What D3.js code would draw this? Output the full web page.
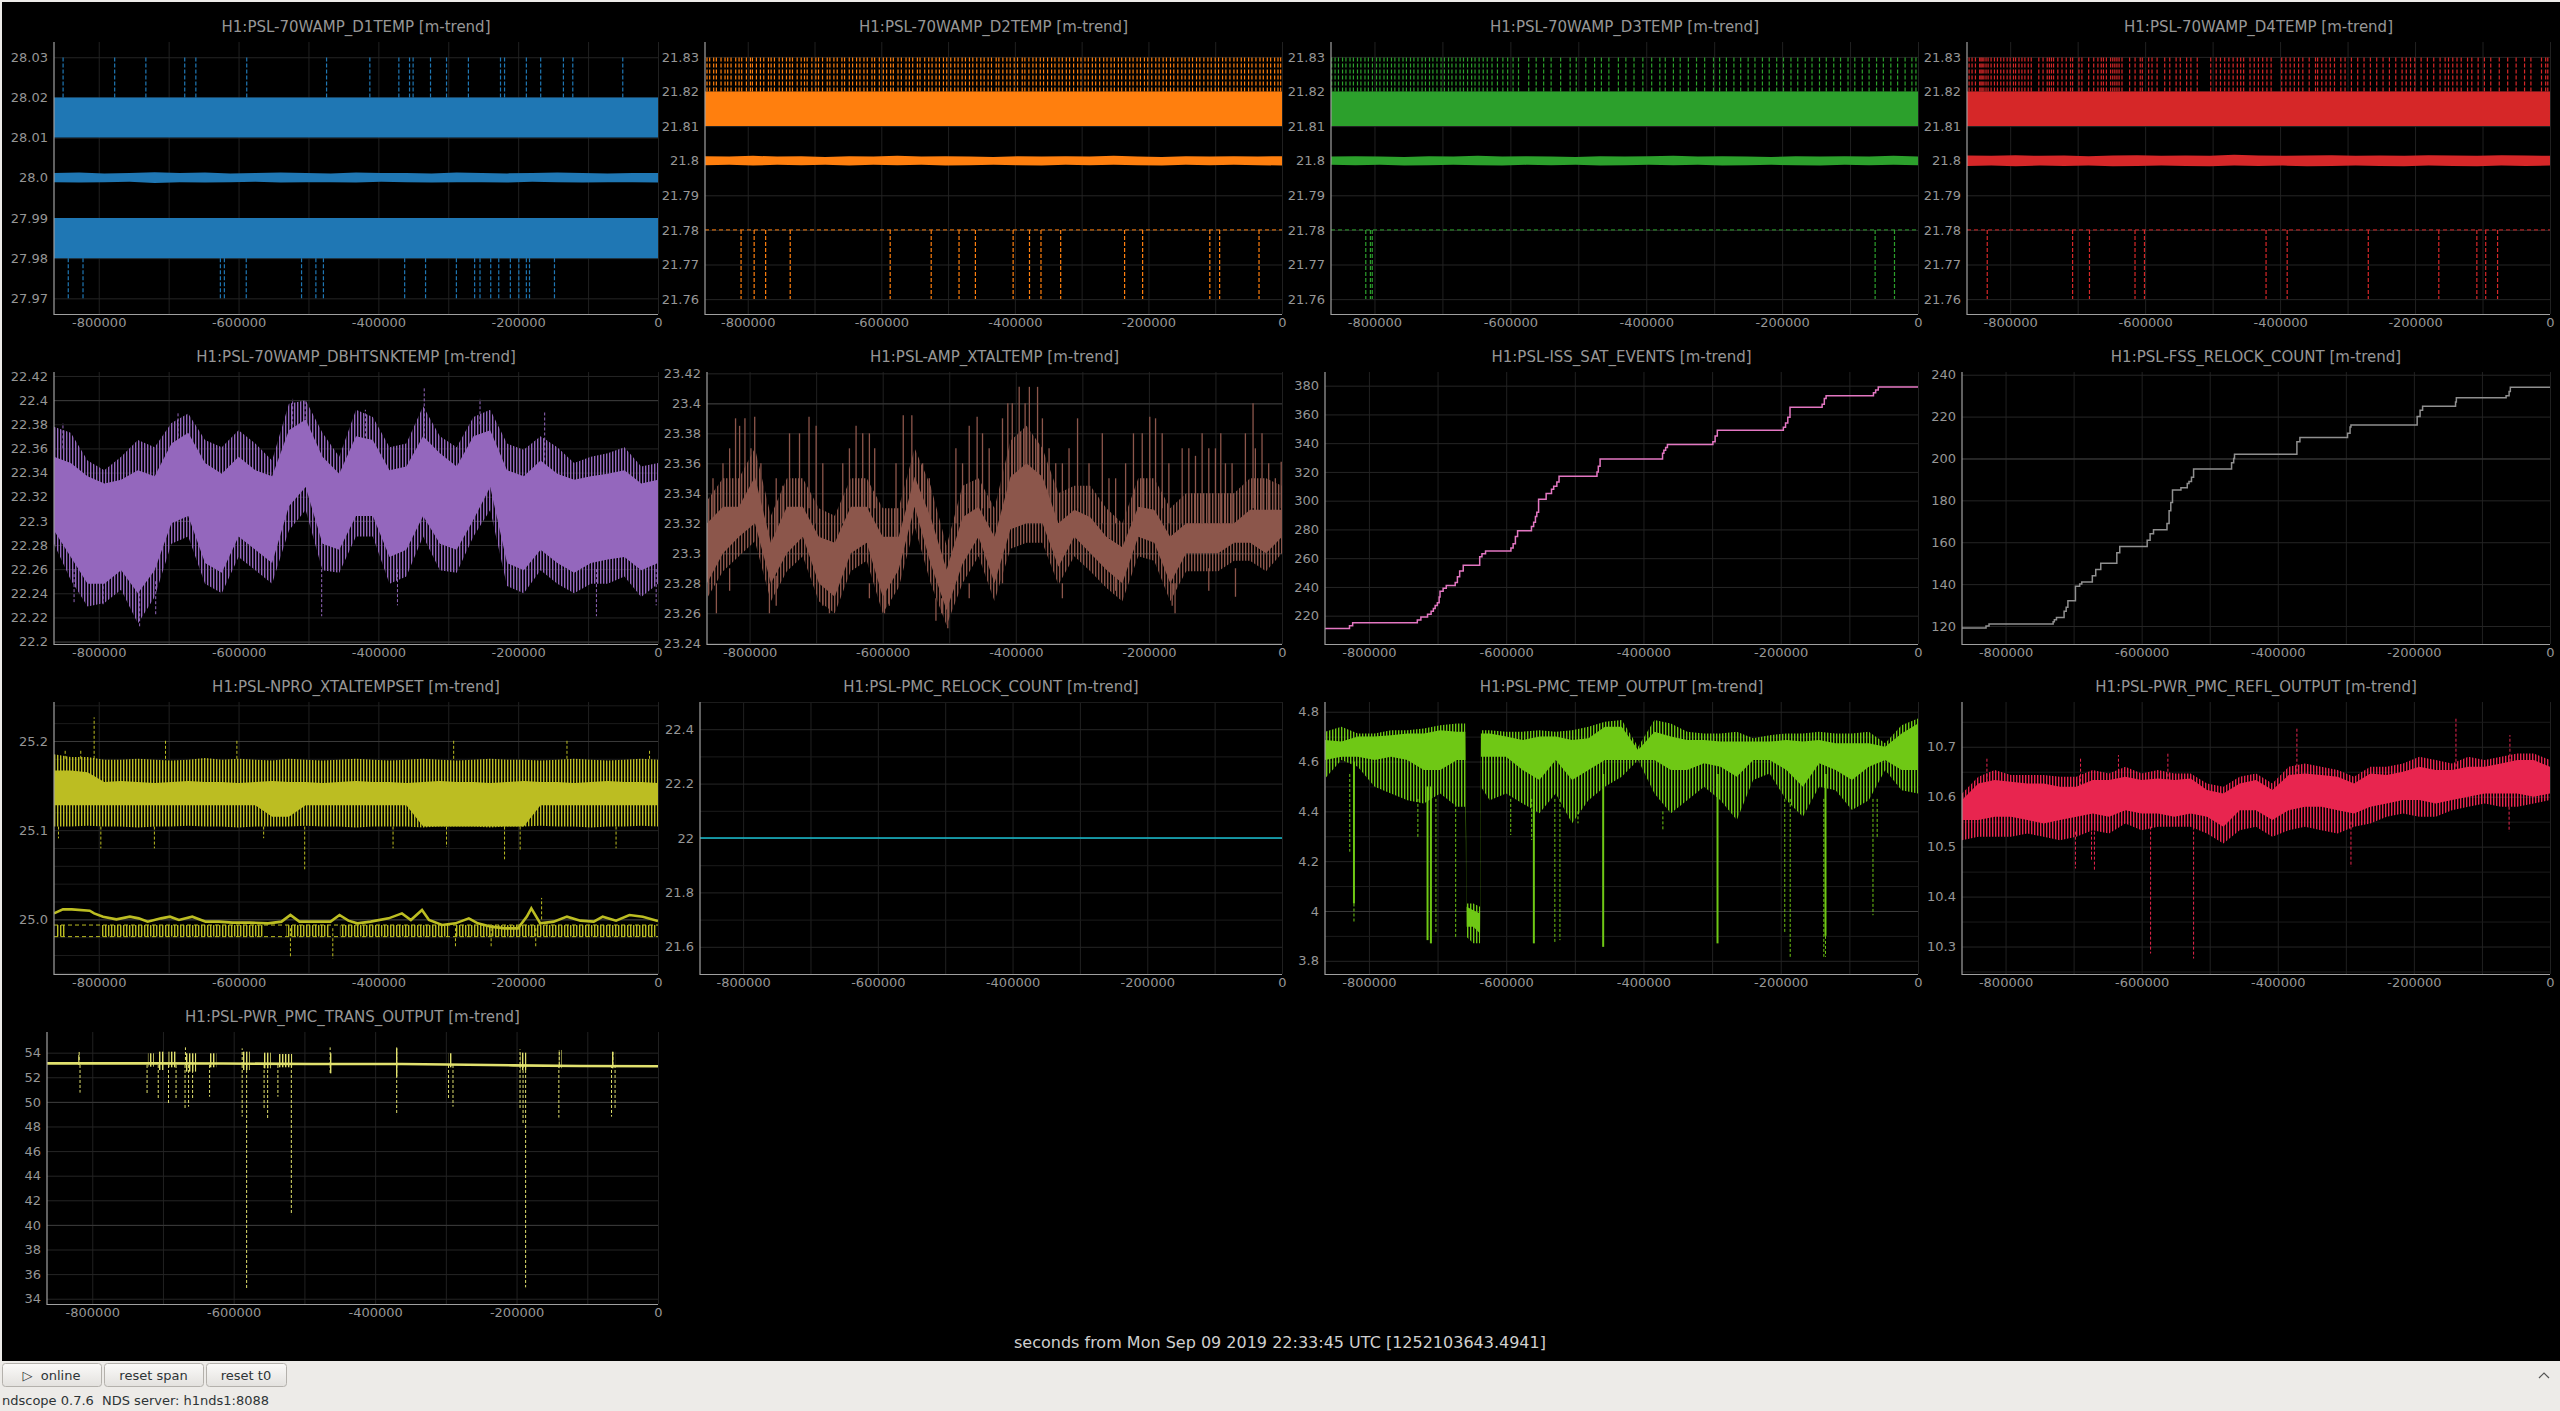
<!DOCTYPE html>
<html>
<head>
<meta charset="utf-8">
<script src="https://cdn.jsdelivr.net/npm/d3@7"></script>
<style>
html, body { margin: 0; padding: 0; background: #edebe8; }
svg { display: block; }
</style>
</head>
<body>
<svg id="scope" width="2560" height="1411"></svg>
<script>
const font = "DejaVu Sans, Verdana, sans-serif"
const spanStart = -864000
const rowTops = [0, 330, 660, 990]

const xTickVals = [-800000, -600000, -400000, -200000, 0]
const xGridVals = [-800000, -700000, -600000, -500000, -400000, -300000, -200000, -100000, 0]

// times below are in kiloseconds before t0
const meanTimes = [-864, -828, -792, -756, -720, -684, -648, -612, -576, -540, -504, -468, -432, -396, -360, -324, -288, -252, -216, -180, -144, -108, -72, -36, 0]
const envTimes = [-864, -840, -816, -792, -768, -744, -720, -696, -672, -648, -624, -600, -576, -552, -528, -504, -480, -456, -432, -408, -384, -360, -336, -312, -288, -264, -240, -216, -192, -168, -144, -120, -96, -72, -48, -24, 0]

// D1TEMP
const d1Ticks = ["27.97", "27.98", "27.99", "28.0", "28.01", "28.02", "28.03"]
const d1Bands = [[28.01, 28.02], [27.98, 27.99]]
const d1MeanHi = [28.0012, 28.0013, 28.0011, 28.0012, 28.0014, 28.0012, 28.0013, 28.0011, 28.0012, 28.0013, 28.0012, 28.0011, 28.0013, 28.0012, 28.0012, 28.0011, 28.0013, 28.0012, 28.0011, 28.0012, 28.0013, 28.0012, 28.0011, 28.0012, 28.0012]
const d1MeanLo = [27.9989, 27.9988, 27.9989, 27.999, 27.9987, 27.9989, 27.9988, 27.9989, 27.999, 27.9988, 27.9989, 27.9989, 27.9988, 27.999, 27.9989, 27.9988, 27.9989, 27.9989, 27.9988, 27.999, 27.9989, 27.9988, 27.9989, 27.9989, 27.9988]
const d1Up = [-851, -777.2, -732.6, -677, -661.1, -588.3, -474.1, -412.2, -370.7, -355.4, -350.3, -325.4, -302.5, -271.2, -225.3, -219.5, -188.3, -167.8, -135.3, -121.9, -50.4]
const d1Down = [-843.6, -822.5, -626, -620.3, -589, -509.9, -489.4, -478.6, -362.4, -332.5, -288.4, -262.3, -254.6, -239.3, -227.8, -211.2, -199.1, -188.3, -183.8, -148.1]

// D2..D4TEMP share the same axis
const dTicks = ["21.76", "21.77", "21.78", "21.79", "21.8", "21.81", "21.82", "21.83"]
const dBand = [21.81, 21.82]
const dFloor = 21.78
const d2MeanHi = [21.8013, 21.8012, 21.8014, 21.8012, 21.8013, 21.8011, 21.8013, 21.8012, 21.8014, 21.8012, 21.8013, 21.8012, 21.8011, 21.8013, 21.8012, 21.8013, 21.8012, 21.8014, 21.8012, 21.8011, 21.8013, 21.8012, 21.8013, 21.8012, 21.8013]
const d2MeanLo = [21.7987, 21.7988, 21.7986, 21.7988, 21.7987, 21.7988, 21.7986, 21.7988, 21.7987, 21.7988, 21.7986, 21.7987, 21.7988, 21.7987, 21.7986, 21.7988, 21.7987, 21.7988, 21.7987, 21.7986, 21.7988, 21.7987, 21.7988, 21.7987, 21.7986]
const d2Up = [-861, -857, -851, -847, -840, -834, -830, -825, -818, -813, -809, -802, -796, -793, -787, -781, -776, -769, -765, -760, -753, -748, -742, -737, -733, -726, -720, -715, -711, -704, -698, -694, -688, -681, -677, -671, -666, -659, -655, -648, -643, -637, -632, -626, -621, -614, -610, -603, -597, -592, -586, -582, -575, -570, -563, -558, -553, -546, -542, -535, -529, -524, -518, -513, -507, -502, -496, -490, -485, -479, -474, -468, -463, -457, -451, -446, -440, -435, -428, -424, -418, -412, -407, -401, -396, -389, -385, -379, -373, -368, -362, -357, -351, -345, -340, -334, -329, -323, -318, -312, -306, -301, -295, -290, -284, -279, -273, -267, -262, -256, -251, -245, -240, -234, -228, -223, -217, -212, -206, -201, -195, -189, -184, -178, -173, -167, -162, -156, -150, -145, -139, -134, -128, -123, -117, -111, -106, -100, -95, -89, -84, -78, -72, -67, -61, -56, -50, -45, -39, -33, -28, -22, -17, -11, -6, -2]
const d2Down = [-810, -790.4, -773.2, -736.4, -586.7, -525.3, -483.6, -459.1, -402.6, -378.1, -360.9, -331.4, -235.7, -208.7, -108.1, -93.4, -34.4]
const d3MeanHi = [21.8012, 21.8013, 21.8012, 21.8011, 21.8013, 21.8012, 21.8014, 21.8012, 21.8013, 21.8012, 21.8011, 21.8013, 21.8012, 21.8013, 21.8014, 21.8012, 21.8013, 21.8012, 21.8011, 21.8013, 21.8012, 21.8013, 21.8012, 21.8014, 21.8012]
const d3MeanLo = [21.7988, 21.7987, 21.7988, 21.7986, 21.7987, 21.7988, 21.7987, 21.7986, 21.7988, 21.7987, 21.7988, 21.7986, 21.7987, 21.7988, 21.7987, 21.7988, 21.7986, 21.7987, 21.7988, 21.7987, 21.7986, 21.7988, 21.7987, 21.7988, 21.7987]
const d3Up = [-863, -858, -853, -847, -842, -836, -831, -825, -820, -814, -809, -803, -797, -792, -786, -781, -775, -770, -764, -758, -753, -747, -742, -736, -730, -725, -719, -714, -708, -702, -697, -691, -686, -680, -674, -669, -663, -657, -652, -646, -640, -634, -627, -619, -611, -604, -596, -588, -573, -562, -551, -540, -526, -512, -503, -489, -476, -466, -455, -441, -430, -418, -405, -392, -380, -372, -360, -350, -338, -326, -314, -301, -292, -282, -271, -261, -250, -240, -229, -219, -208, -198, -187, -177, -166, -156, -145, -135, -124, -114, -103, -93, -82, -72, -61, -51, -40, -30, -19, -9, -3]
const d3Down = [-812.8, -806, -803.3, -63.1, -34.6]
const d4MeanHi = [21.8015, 21.8014, 21.8016, 21.8014, 21.8015, 21.8013, 21.8015, 21.8016, 21.8014, 21.8015, 21.8014, 21.8017, 21.8015, 21.8014, 21.8015, 21.8016, 21.8014, 21.8015, 21.8014, 21.8016, 21.8015, 21.8014, 21.8016, 21.8015, 21.8014]
const d4MeanLo = [21.7985, 21.7986, 21.7984, 21.7986, 21.7985, 21.7986, 21.7984, 21.7985, 21.7986, 21.7985, 21.7984, 21.7986, 21.7985, 21.7986, 21.7984, 21.7985, 21.7986, 21.7985, 21.7984, 21.7986, 21.7985, 21.7984, 21.7986, 21.7985, 21.7986]
const d4Up = [-860.9, -856.5, -851.5, -845.2, -843.3, -841.5, -839, -835.8, -832.7, -828.3, -823.3, -818.9, -813.9, -809.5, -804.5, -800.1, -795.1, -792, -787, -782.6, -778.2, -773.2, -768.8, -757.6, -751.3, -745.1, -741.9, -738.8, -735.7, -729.4, -723.2, -716.9, -710.6, -707.5, -698.1, -693.7, -683.7, -676.2, -670, -665, -661.8, -657.4, -651.2, -648, -644.9, -641.8, -638.6, -634.3, -623, -614.9, -607.3, -604.2, -594.8, -589.8, -582.3, -571, -563.5, -554.1, -547.9, -538.5, -532.2, -522.8, -502.8, -494.7, -488.4, -482.1, -475.9, -469.6, -463.4, -458.4, -454, -444.6, -438.3, -432.1, -425.8, -419.5, -413.3, -397.6, -391.4, -385.1, -378.9, -372.6, -366.3, -356.9, -347.5, -344.4, -338.2, -331.9, -325.6, -319.4, -310, -303.7, -294.3, -285, -275.6, -266.2, -256.8, -247.4, -238, -228.6, -219.2, -213, -206.7, -200.4, -191, -181.7, -172.3, -162.9, -155.4, -150.4, -144.1, -137.8, -131.6, -122.2, -115.9, -106.5, -97.2, -87.8, -75.2, -62.7, -50.2, -37.7, -28.3, -12.6, -6.4, -3.3]
const d4Down = [-834, -707.5, -682.5, -615, -601, -420.8, -389.5, -269.3, -164.8, -108.4, -95.3, -77.7]

// DBHTSNKTEMP
const htsTicks = ["22.2", "22.22", "22.24", "22.26", "22.28", "22.3", "22.32", "22.34", "22.36", "22.38", "22.4", "22.42"]
const htsOuterHi = [22.378, 22.373, 22.350, 22.342, 22.353, 22.367, 22.361, 22.381, 22.389, 22.367, 22.361, 22.375, 22.364, 22.350, 22.397, 22.400, 22.373, 22.353, 22.392, 22.386, 22.361, 22.364, 22.395, 22.370, 22.361, 22.386, 22.392, 22.364, 22.359, 22.370, 22.361, 22.348, 22.353, 22.356, 22.361, 22.345, 22.348]
const htsCoreHi = [22.353, 22.348, 22.337, 22.331, 22.334, 22.342, 22.337, 22.364, 22.373, 22.348, 22.339, 22.353, 22.342, 22.337, 22.375, 22.384, 22.353, 22.339, 22.370, 22.367, 22.342, 22.345, 22.370, 22.356, 22.345, 22.370, 22.375, 22.342, 22.337, 22.350, 22.339, 22.334, 22.337, 22.339, 22.342, 22.331, 22.334]
const htsCoreLo = [22.292, 22.270, 22.248, 22.248, 22.259, 22.240, 22.259, 22.298, 22.304, 22.265, 22.257, 22.287, 22.276, 22.265, 22.312, 22.328, 22.281, 22.276, 22.304, 22.304, 22.270, 22.276, 22.304, 22.281, 22.276, 22.301, 22.328, 22.265, 22.259, 22.276, 22.265, 22.257, 22.265, 22.268, 22.270, 22.259, 22.265]
const htsOuterLo = [22.281, 22.251, 22.229, 22.232, 22.243, 22.215, 22.237, 22.281, 22.287, 22.248, 22.240, 22.270, 22.259, 22.248, 22.292, 22.309, 22.259, 22.257, 22.287, 22.287, 22.248, 22.254, 22.287, 22.259, 22.257, 22.287, 22.309, 22.246, 22.240, 22.259, 22.248, 22.240, 22.248, 22.248, 22.254, 22.237, 22.248]
const htsSpikes = [[-851.2, 22.36, 22.381], [-686.6, 22.37, 22.390], [-522.6, 22.38, 22.401], [-504.8, 22.38, 22.400], [-418.6, 22.37, 22.392], [-334.4, 22.37, 22.411], [-254.6, 22.38, 22.401], [-162.1, 22.35, 22.39], [-835.3, 22.26, 22.232], [-793.8, 22.25, 22.23], [-741.5, 22.24, 22.211], [-718.5, 22.25, 22.221], [-481.1, 22.26, 22.221], [-372.7, 22.26, 22.23], [-88.1, 22.26, 22.221], [-2.6, 22.26, 22.23]]

// AMP_XTALTEMP
const ampTicks = ["23.24", "23.26", "23.28", "23.3", "23.32", "23.34", "23.36", "23.38", "23.4", "23.42"]
const ampOuterHi = [23.335, 23.35, 23.35, 23.37, 23.325, 23.35, 23.35, 23.33, 23.325, 23.35, 23.35, 23.33, 23.33, 23.37, 23.345, 23.305, 23.345, 23.35, 23.33, 23.375, 23.385, 23.37, 23.34, 23.345, 23.345, 23.33, 23.32, 23.35, 23.35, 23.33, 23.34, 23.34, 23.34, 23.34, 23.35, 23.35, 23.345]
const ampCoreHi = [23.32, 23.331, 23.331, 23.351, 23.307, 23.331, 23.331, 23.311, 23.307, 23.331, 23.331, 23.311, 23.311, 23.351, 23.324, 23.289, 23.324, 23.331, 23.311, 23.351, 23.36, 23.351, 23.32, 23.329, 23.324, 23.311, 23.304, 23.331, 23.329, 23.311, 23.32, 23.32, 23.32, 23.32, 23.329, 23.329, 23.329]
const ampCoreLo = [23.28, 23.30, 23.311, 23.32, 23.28, 23.30, 23.311, 23.28, 23.271, 23.30, 23.307, 23.271, 23.289, 23.331, 23.293, 23.262, 23.293, 23.311, 23.28, 23.316, 23.32, 23.32, 23.291, 23.311, 23.30, 23.289, 23.28, 23.311, 23.307, 23.28, 23.30, 23.30, 23.30, 23.307, 23.307, 23.30, 23.311]
const ampOuterLo = [23.27, 23.288, 23.298, 23.308, 23.268, 23.288, 23.298, 23.268, 23.26, 23.288, 23.295, 23.26, 23.277, 23.318, 23.28, 23.252, 23.28, 23.298, 23.268, 23.303, 23.307, 23.307, 23.279, 23.298, 23.288, 23.277, 23.268, 23.298, 23.295, 23.268, 23.288, 23.288, 23.288, 23.295, 23.295, 23.288, 23.3]
const ampSpikes = [[-821.1, 23.33, 23.39], [-807.0, 23.33, 23.39], [-792.3, 23.34, 23.391], [-710.7, 23.33, 23.391], [-569.1, 23.33, 23.392], [-556.2, 23.34, 23.392], [-458.1, 23.33, 23.391], [-405.3, 23.35, 23.40], [-394.9, 23.35, 23.411], [-379.6, 23.35, 23.411], [-367.3, 23.35, 23.411], [-307.2, 23.33, 23.39], [-223.2, 23.32, 23.38], [-198.7, 23.33, 23.391], [-43.5, 23.33, 23.40], [-1.2, 23.33, 23.361],
    [-840, 23.33, 23.36], [-760, 23.31, 23.35], [-740, 23.33, 23.38], [-725, 23.33, 23.38], [-650, 23.33, 23.37], [-630, 23.33, 23.38], [-620, 23.33, 23.38], [-540, 23.33, 23.36], [-480, 23.32, 23.36], [-440, 23.33, 23.37], [-350, 23.33, 23.37], [-330, 23.32, 23.36], [-270, 23.32, 23.38], [-250, 23.32, 23.35], [-180, 23.33, 23.38], [-150, 23.32, 23.37], [-120, 23.32, 23.38], [-100, 23.32, 23.37], [-85, 23.32, 23.36], [-30, 23.32, 23.38],
    [-855, 23.31, 23.35], [-830, 23.33, 23.37], [-815, 23.33, 23.385], [-798, 23.33, 23.37], [-783, 23.33, 23.36], [-750, 23.31, 23.345], [-700, 23.32, 23.385], [-690, 23.31, 23.36], [-660, 23.32, 23.36], [-640, 23.33, 23.385], [-612, 23.33, 23.37], [-580, 23.31, 23.36], [-530, 23.31, 23.35], [-490, 23.32, 23.37], [-470, 23.33, 23.385], [-450, 23.33, 23.38], [-420, 23.34, 23.39], [-412, 23.34, 23.40], [-386, 23.35, 23.40], [-360, 23.34, 23.39], [-340, 23.32, 23.36], [-320, 23.32, 23.37], [-290, 23.32, 23.36], [-260, 23.31, 23.35], [-235, 23.31, 23.36], [-210, 23.32, 23.38], [-190, 23.32, 23.39], [-170, 23.32, 23.36], [-140, 23.32, 23.37], [-130, 23.32, 23.365], [-110, 23.32, 23.37], [-92, 23.32, 23.38], [-75, 23.32, 23.36], [-55, 23.32, 23.38], [-40, 23.32, 23.37], [-20, 23.32, 23.36], [-10, 23.32, 23.35],
    [-849.9, 23.28, 23.26], [-770.2, 23.28, 23.26], [-680.0, 23.28, 23.26], [-597.3, 23.28, 23.26], [-511.4, 23.27, 23.26], [-502.2, 23.27, 23.25], [-160.7, 23.28, 23.26], [-69.9, 23.29, 23.271],
    [-830, 23.29, 23.275], [-760, 23.285, 23.265], [-690, 23.285, 23.265], [-620, 23.28, 23.27], [-590, 23.28, 23.265], [-520, 23.27, 23.255], [-470, 23.28, 23.27], [-420, 23.3, 23.28], [-330, 23.28, 23.27], [-250, 23.285, 23.275], [-165, 23.28, 23.265], [-110, 23.29, 23.275]]

// ISS_SAT_EVENTS and FSS_RELOCK_COUNT (counters)
const issTicks = ["220", "240", "260", "280", "300", "320", "340", "360", "380"]
const issSteps = [[-864, 211], [-828.3, 213], [-823.7, 215], [-729.5, 217], [-724.3, 219], [-714.6, 221], [-709.4, 223], [-706.1, 225], [-703.5, 227], [-700.3, 229], [-697.7, 233], [-696.4, 237], [-691.9, 239], [-687.3, 241], [-674.3, 243], [-671.1, 247], [-667.8, 251], [-662.6, 255], [-638.6, 261], [-635.3, 263], [-630.1, 265], [-593.1, 267], [-589.9, 270], [-586.6, 275], [-583.4, 279], [-563.2, 282], [-560.0, 285], [-557.4, 289], [-555.4, 292], [-552.8, 301], [-541.8, 305], [-534.0, 308], [-530.8, 310], [-526.2, 313], [-523.0, 317], [-467.7, 320], [-465.8, 324], [-463.2, 329], [-372.2, 333], [-370.3, 335], [-367.7, 337], [-365.1, 339], [-298.9, 341], [-295.6, 345], [-292.4, 349], [-196.2, 351], [-193.0, 354], [-189.7, 358], [-186.5, 365], [-139.7, 367], [-136.5, 371], [-133.9, 373], [-64.9, 375], [-61.7, 377], [-57.9, 379]]
const fssTicks = ["120", "140", "160", "180", "200", "220", "240"]
const fssSteps = [[-864, 119], [-828.7, 120], [-824.3, 121], [-730.1, 122], [-728.3, 123], [-725.2, 124], [-714.0, 127], [-710.9, 129], [-708.4, 132], [-697.3, 139], [-691.1, 140], [-688.0, 141], [-672.5, 144], [-667.5, 147], [-660.1, 150], [-636.5, 155], [-632.2, 158], [-591.9, 161], [-587.6, 164], [-582.6, 166], [-562.8, 169], [-559.7, 175], [-557.2, 179], [-554.7, 185], [-542.3, 186], [-533.0, 188], [-530.5, 189], [-526.8, 191], [-523.7, 195], [-467.9, 198], [-464.8, 200], [-463.6, 202], [-371.9, 208], [-367.5, 210], [-297.5, 212], [-293.8, 215], [-292.5, 216], [-195.2, 220], [-190.9, 223], [-187.2, 225], [-138.8, 227], [-137.6, 229], [-64.5, 230], [-60.1, 232], [-58.3, 234]]

// NPRO_XTALTEMPSET
const nproTicks = ["25.0", "25.1", "25.2"]
const nproGrid = [24.94, 24.96, 24.98, 25.02, 25.04, 25.06, 25.08, 25.12, 25.14, 25.16, 25.18, 25.22, 25.24]
const nproOuterHi = [25.185, 25.182, 25.182, 25.179, 25.179, 25.18, 25.179, 25.178, 25.179, 25.181, 25.179, 25.18, 25.179, 25.178, 25.18, 25.179, 25.178, 25.179, 25.18, 25.179, 25.178, 25.179, 25.18, 25.179, 25.178, 25.179, 25.18, 25.179, 25.179, 25.178, 25.179, 25.18, 25.179, 25.178, 25.179, 25.18, 25.179]
const nproCoreHi = [25.167, 25.167, 25.165, 25.154, 25.155, 25.154, 25.153, 25.154, 25.155, 25.154, 25.154, 25.153, 25.154, 25.155, 25.154, 25.154, 25.153, 25.154, 25.155, 25.154, 25.154, 25.153, 25.154, 25.155, 25.154, 25.154, 25.153, 25.154, 25.155, 25.154, 25.154, 25.153, 25.154, 25.155, 25.154, 25.154, 25.153]
const nproCoreLo = [25.128, 25.128, 25.128, 25.128, 25.128, 25.128, 25.128, 25.128, 25.128, 25.128, 25.128, 25.128, 25.128, 25.115, 25.115, 25.128, 25.128, 25.128, 25.128, 25.128, 25.128, 25.128, 25.104, 25.104, 25.104, 25.104, 25.104, 25.104, 25.104, 25.128, 25.128, 25.128, 25.128, 25.128, 25.128, 25.128, 25.128]
const nproOuterLo = [25.104, 25.104, 25.105, 25.104, 25.104, 25.103, 25.104, 25.104, 25.105, 25.104, 25.104, 25.103, 25.104, 25.104, 25.104, 25.105, 25.104, 25.104, 25.103, 25.104, 25.104, 25.104, 25.103, 25.104, 25.104, 25.104, 25.103, 25.104, 25.104, 25.105, 25.104, 25.104, 25.103, 25.104, 25.104, 25.105, 25.104]
const nproSpikes = [[-806.6, 25.18, 25.2265], [-848.0, 25.18, 25.19], [-825.7, 25.18, 25.19], [-704.5, 25.18, 25.2019], [-602.4, 25.18, 25.2019], [-292.3, 25.18, 25.2019], [-130.2, 25.18, 25.201], [-12.1, 25.18, 25.19],
    [-857.6, 25.104, 25.0908], [-797.0, 25.104, 25.0796], [-720.4, 25.104, 25.0796], [-564.1, 25.104, 25.091], [-505.4, 25.104, 25.0561], [-379.0, 25.104, 25.0796], [-302.5, 25.104, 25.081], [-219.5, 25.104, 25.0673], [-197.2, 25.104, 25.078], [-60.0, 25.104, 25.0796],
    [-525.8, 24.99, 24.958], [-465.2, 24.99, 24.956], [-289.7, 24.99, 24.969], [-238.7, 24.99, 24.969], [-174.9, 24.99, 24.969], [-166.5, 25.0, 25.024]]
const nproTrace = [[-864, 25.0067], [-851.2, 25.0112], [-838.5, 25.0112], [-812.9, 25.0097], [-806.6, 25.0067], [-793.8, 25.003], [-774.7, 25.0], [-755.5, 25.003], [-742.8, 25.0011], [-730.0, 24.9974], [-710.9, 25.0011], [-698.1, 25.003], [-685.3, 24.9993], [-666.2, 25.003], [-647.0, 24.9974], [-627.9, 24.9974], [-608.8, 24.9963], [-583.2, 24.9963], [-557.7, 24.9955], [-538.6, 24.9974], [-525.8, 25.0049], [-513.0, 24.9974], [-493.9, 24.9974], [-468.4, 24.9974], [-455.6, 25.0049], [-442.9, 24.9985], [-430.1, 24.9955], [-411.0, 24.9974], [-385.4, 25.0011], [-366.3, 25.0067], [-353.5, 24.9993], [-337.6, 25.0105], [-327.6, 24.9993], [-308.9, 24.9936], [-289.7, 24.9955], [-270.6, 25.0011], [-257.8, 24.9955], [-238.7, 24.9918], [-219.5, 24.9899], [-200.4, 24.9899], [-187.6, 25.003], [-181.2, 25.0123], [-168.4, 24.9955], [-149.3, 24.9974], [-130.2, 25.003], [-111.0, 24.9985], [-91.9, 24.9974], [-79.1, 25.003], [-60.0, 24.9985], [-40.9, 25.0049], [-21.7, 25.003], [0, 24.9981]]
const nproBars = [[-861, -848], [-797, -565], [-532, -470], [-455, -300], [-290, -3]]
const nproBarRange = [24.9806, 24.9936]

// PMC_RELOCK_COUNT
const relockTicks = ["21.6", "21.8", "22", "22.2", "22.4"]
const relockGrid = [21.5, 21.7, 21.9, 22.1, 22.3, 22.5]
const relockTrace = [[-864, 22], [0, 22]]

// PMC_TEMP_OUTPUT
const tempTicks = ["3.8", "4", "4.2", "4.4", "4.6", "4.8"]
const tempGrid = [3.9, 4.1, 4.3, 4.5, 4.7]
const tempTimes = [-864, -840.1, -816.2, -791.7, -767.9, -744.0, -720.1, -696.2, -671.7, -659.5, -657.6, -647.9, -638.1, -636.8, -624.0, -600.1, -576.2, -551.7, -527.8, -504.0, -480.1, -456.2, -431.7, -407.8, -384.0, -360.1, -336.2, -311.7, -287.8, -264.0, -240.1, -216.2, -191.7, -167.8, -144.0, -120.1, -96.2, -71.7, -47.8, -23.9, 0]
const tempOuterHi = [4.72, 4.74, 4.713, 4.713, 4.726, 4.726, 4.733, 4.746, 4.753, 4.753, 4.03, 4.03, 4.017, 4.726, 4.726, 4.72, 4.72, 4.726, 4.72, 4.726, 4.74, 4.76, 4.767, 4.659, 4.767, 4.753, 4.72, 4.713, 4.713, 4.72, 4.693, 4.706, 4.713, 4.713, 4.72, 4.713, 4.713, 4.72, 4.673, 4.746, 4.773]
const tempCoreHi = [4.686, 4.68, 4.70, 4.70, 4.706, 4.713, 4.713, 4.726, 4.72, 4.72, 4.017, 4.003, 3.99, 4.713, 4.713, 4.70, 4.686, 4.70, 4.70, 4.686, 4.693, 4.74, 4.74, 4.646, 4.72, 4.70, 4.686, 4.686, 4.68, 4.68, 4.68, 4.68, 4.686, 4.68, 4.686, 4.673, 4.673, 4.673, 4.659, 4.713, 4.753]
const tempCoreLo = [4.606, 4.619, 4.619, 4.606, 4.619, 4.606, 4.566, 4.566, 4.606, 4.606, 3.937, 3.937, 3.91, 4.619, 4.619, 4.619, 4.566, 4.526, 4.606, 4.526, 4.566, 4.606, 4.606, 4.606, 4.606, 4.566, 4.566, 4.593, 4.579, 4.539, 4.606, 4.606, 4.566, 4.499, 4.593, 4.566, 4.526, 4.579, 4.606, 4.566, 4.566]
const tempOuterLo = [4.532, 4.606, 4.579, 4.499, 4.472, 4.445, 4.432, 4.472, 4.418, 4.418, 3.896, 3.87, 3.87, 4.499, 4.445, 4.472, 4.432, 4.392, 4.472, 4.352, 4.445, 4.499, 4.539, 4.606, 4.472, 4.392, 4.445, 4.499, 4.445, 4.365, 4.526, 4.552, 4.445, 4.378, 4.499, 4.485, 4.405, 4.445, 4.566, 4.485, 4.472]
const tempDips = [[-821.8, 4.6, 4.03], [-714.6, 4.5, 3.883], [-709.7, 4.5, 3.87], [-559.7, 4.55, 3.87], [-458.7, 4.55, 3.856], [-292.1, 4.55, 3.87], [-134.8, 4.55, 3.9]]
const tempSpikes = [[-827.9, 4.55, 4.238], [-821.8, 4.03, 3.95], [-728.7, 4.45, 4.291], [-702.4, 4.45, 3.91], [-673.6, 4.45, 3.89], [-593.4, 4.45, 4.305], [-562.8, 4.45, 4.285], [-529.1, 4.45, 3.87], [-521.7, 4.45, 3.883], [-495.4, 4.4, 4.352], [-371.7, 4.4, 4.325], [-194.1, 4.45, 3.91], [-186.2, 4.45, 3.816], [-137.2, 4.45, 3.816], [-134.8, 3.9, 3.816], [-65.6, 4.45, 3.983], [-59.5, 4.45, 4.291]]

// PWR_PMC_REFL_OUTPUT
const reflTicks = ["10.3", "10.4", "10.5", "10.6", "10.7"]
const reflGrid = [10.25, 10.35, 10.45, 10.55, 10.65, 10.75]
const reflOuterHi = [10.6065, 10.6399, 10.6533, 10.6432, 10.6432, 10.6432, 10.6399, 10.6399, 10.6533, 10.6466, 10.66, 10.6466, 10.6533, 10.6466, 10.6466, 10.6265, 10.6199, 10.6399, 10.6466, 10.6265, 10.66, 10.6666, 10.66, 10.6533, 10.6399, 10.66, 10.66, 10.6666, 10.68, 10.6733, 10.6666, 10.68, 10.6733, 10.68, 10.6866, 10.6866, 10.6733]
const reflCoreHi = [10.5932, 10.6265, 10.6332, 10.6299, 10.6265, 10.6265, 10.6199, 10.6199, 10.6332, 10.6332, 10.6399, 10.6332, 10.6366, 10.6332, 10.6366, 10.6132, 10.6065, 10.6265, 10.6332, 10.6132, 10.6432, 10.6466, 10.6432, 10.6399, 10.6265, 10.6466, 10.6432, 10.65, 10.66, 10.6533, 10.6533, 10.66, 10.66, 10.6666, 10.6733, 10.6733, 10.66]
const reflCoreLo = [10.5531, 10.5531, 10.5598, 10.5598, 10.5531, 10.5464, 10.5531, 10.5598, 10.5664, 10.5598, 10.5731, 10.5664, 10.5664, 10.5598, 10.5664, 10.5598, 10.5397, 10.5731, 10.5731, 10.5531, 10.5731, 10.5798, 10.5798, 10.5731, 10.5664, 10.5798, 10.5865, 10.5932, 10.5932, 10.5865, 10.5932, 10.5998, 10.6065, 10.6065, 10.6065, 10.5998, 10.6065]
const reflOuterLo = [10.513, 10.5197, 10.5197, 10.5197, 10.5264, 10.5197, 10.513, 10.5197, 10.533, 10.5264, 10.5464, 10.533, 10.5397, 10.5397, 10.5397, 10.5264, 10.5063, 10.533, 10.5397, 10.5197, 10.533, 10.5397, 10.533, 10.5264, 10.5397, 10.5464, 10.5598, 10.5664, 10.5598, 10.5598, 10.5731, 10.5798, 10.5865, 10.5798, 10.5798, 10.5865, 10.5932]
const reflSpikes = [[-827.4, 10.62, 10.6766], [-689.8, 10.62, 10.6766], [-634.1, 10.63, 10.6833], [-561.5, 10.63, 10.69], [-371.9, 10.64, 10.7367], [-138.2, 10.66, 10.7588], [-58.9, 10.67, 10.7234],
    [-697.3, 10.53, 10.4563], [-673.7, 10.53, 10.473], [-669.4, 10.53, 10.453], [-586.9, 10.54, 10.286], [-523.7, 10.54, 10.276], [-292.5, 10.55, 10.4596], [-60.1, 10.58, 10.5297]]

// PWR_PMC_TRANS_OUTPUT
const transTicks = ["34", "36", "38", "40", "42", "44", "46", "48", "50", "52", "54"]
const transBase = [[-864, 53.13], [-722.5, 53.13], [-615.1, 53.12], [-488.8, 53.08], [-362.5, 53.08], [-267.8, 53.02], [-204.6, 52.97], [-109.9, 52.92], [0, 52.89]]
const transBursts = [[-819.8, -817.3, 53.0, 53.81], [-721.3, -713.0, 52.86, 53.95], [-706.7, -697.3, 52.59, 54.08], [-692.2, -681.5, 52.81, 54.08], [-668.8, -653.0, 52.46, 53.95], [-634.1, -624.6, 52.81, 53.95], [-588.0, -577.3, 52.59, 54.08], [-558.3, -547.6, 52.73, 54.0], [-536.2, -517.3, 52.81, 53.89], [-464.8, -460.4, 52.32, 53.95], [-370.7, -366.9, 52.05, 54.35], [-296.2, -289.9, 52.81, 53.95], [-195.1, -185.9, 52.59, 54.0], [-140.2, -136.4, 52.73, 54.22], [-65.7, -60.7, 52.73, 54.08]]
const transSpikes = [[-817.3, 53, 50.75], [-722.5, 53, 50.56], [-706.7, 53, 50.15], [-692.2, 53, 49.88], [-681.5, 53, 50.15], [-668.8, 53, 49.47], [-663.8, 53, 49.61], [-658.1, 53, 50.15], [-634.1, 53, 50.42], [-588.0, 53, 48.8], [-581.7, 53, 34.84], [-557.0, 53, 49.34], [-552.0, 53, 48.53], [-537.5, 53, 50.42], [-518.5, 53, 40.8], [-463.6, 53, 52.3], [-369.5, 53, 48.93], [-296.2, 53, 50.29], [-289.9, 53, 49.61], [-195.1, 53, 49.34], [-190.8, 53, 48.25], [-187.2, 53, 34.92], [-140.2, 53, 48.72], [-65.7, 53, 48.8], [-60.7, 53, 49.47],
    [-818.5, 53, 54.22], [-668.2, 53, 54.43], [-588.0, 53, 54.35], [-463.6, 53, 54.43], [-369.5, 53, 54.43], [-195.1, 53, 54.27], [-139.6, 53, 54.16], [-63.8, 53, 54.08]]

const caption = "seconds from Mon Sep 09 2019 22:33:45 UTC [1252103643.4941]"
const buttons = [["\u25b7  online", 2, 99], ["reset span", 104, 99], ["reset t0", 206, 80]]
const status = [["ndscope 0.7.6", 2], ["NDS server: h1nds1:8088", 102]]

class TrendPlot {
    constructor (root, spec, id) {
        this.spec = spec
        this.id = id
        this.color = spec.color
        this.top = rowTops[spec.row] + 42
        this.bottom = rowTops[spec.row] + 314
        this.left = spec.left
        this.right = spec.right

        this.x = d3.scaleLinear().domain([spanStart, 0]).range([this.left, this.right])
        this.y = d3.scaleLinear().domain(spec.domain).range([this.bottom, this.top])

        const defs = root.select("defs")
        defs.append("clipPath").attr("id", "clip" + id)
            .append("rect")
            .attr("x", this.left).attr("y", this.top)
            .attr("width", this.right - this.left).attr("height", this.bottom - this.top)
        // m-trend min/max samples read as dense vertical strokes
        defs.append("pattern").attr("id", "hatch" + id)
            .attr("width", 3).attr("height", 8).attr("patternUnits", "userSpaceOnUse")
            .append("rect").attr("width", 1.4).attr("height", 8).attr("fill", this.color)

        this.g = root.append("g").attr("class", "plot")
        this.drawGrid()
        this.data = this.g.append("g").attr("clip-path", "url(#clip" + id + ")")
        spec.layers(this)
        this.drawAxes()
    }

    gridLines (vals, color) {
        this.g.append("g")
            .attr("transform", "translate(" + this.left + ",0)")
            .style("color", color)
            .call(d3.axisLeft(this.y).tickValues(vals).tickSize(-(this.right - this.left)).tickFormat(""))
            .call(a => a.select(".domain").remove())
    }

    drawGrid () {
        this.g.append("g")
            .attr("transform", "translate(0," + this.bottom + ")")
            .style("color", "#202020")
            .call(d3.axisBottom(this.x).tickValues(xGridVals).tickSize(-(this.bottom - this.top)).tickFormat(""))
            .call(a => a.select(".domain").remove())
        if (this.spec.minor) this.gridLines(this.spec.minor, "#1b1b1b")
        this.gridLines(this.spec.ticks.map(Number), "#252525")
        if (this.spec.bright) this.gridLines(this.spec.bright, "#3a3a3a")
    }

    drawAxes () {
        const labels = this.spec.ticks
        const yAxis = d3.axisLeft(this.y).tickValues(labels.map(Number)).tickSize(0).tickPadding(6).tickFormat((d, i) => labels[i])
        const xAxis = d3.axisBottom(this.x).tickValues(xTickVals).tickSize(0).tickPadding(4).tickFormat(d => String(d))

        this.g.append("g")
            .attr("transform", "translate(" + this.left + ",0)")
            .call(yAxis)
            .call(a => a.select(".domain").remove())
            .attr("font-size", 13).attr("font-family", font)
            .style("color", "#969696")

        this.g.append("g")
            .attr("transform", "translate(0," + this.bottom + ")")
            .call(xAxis)
            .call(a => a.select(".domain").remove())
            .attr("font-size", 13).attr("font-family", font)
            .style("color", "#969696")

        this.g.append("path")
            .attr("d", "M" + this.left + "," + this.top + "V" + (this.bottom + 0.5) + "H" + this.right)
            .attr("fill", "none").attr("stroke", "#a0a0a0").attr("stroke-width", 1.2)

        this.g.append("text")
            .attr("x", (this.left + this.right) / 2).attr("y", rowTops[this.spec.row] + 32)
            .attr("text-anchor", "middle").attr("font-size", 15).attr("font-family", font)
            .attr("fill", "#969696")
            .text(this.spec.title)
    }

    paint (textured) {
        return textured ? "url(#hatch" + this.id + ")" : this.color
    }

    band (lo, hi) {
        const area = d3.area().x(d => this.x(d)).y0(this.y(lo)).y1(this.y(hi))
        this.data.append("path").datum([spanStart, 0]).attr("d", area).attr("fill", this.color)
    }

    envelope (times, lo, hi, textured = false) {
        const area = d3.area()
            .x((d, i) => this.x(times[i] * 1000))
            .y0((d, i) => this.y(lo[i]))
            .y1((d, i) => this.y(hi[i]))
        this.data.append("path").datum(times).attr("d", area).attr("fill", this.paint(textured))
    }

    spikes (times, from, to, dash = "4,2", width = 1.2) {
        this.spikeRows(times.map(t => [t, from, to]), dash, width)
    }

    spikeRows (rows, dash = "4,2", width = 1.2) {
        this.data.append("g").selectAll("line")
            .data(rows)
            .join("line")
            .attr("x1", d => this.x(d[0] * 1000)).attr("x2", d => this.x(d[0] * 1000))
            .attr("y1", d => this.y(d[1])).attr("y2", d => this.y(d[2]))
            .attr("stroke", this.color).attr("stroke-width", width)
            .attr("stroke-dasharray", dash)
    }

    hline (v, dash = null, width = 1) {
        this.data.append("line")
            .attr("x1", this.x(spanStart)).attr("x2", this.x(0))
            .attr("y1", this.y(v)).attr("y2", this.y(v))
            .attr("stroke", this.color).attr("stroke-width", width)
            .attr("stroke-dasharray", dash)
    }

    trace (rows, curve = d3.curveLinear, width = 1.5) {
        const pts = rows.slice()
        if (pts[pts.length - 1][0] < 0) pts.push([0, pts[pts.length - 1][1]])
        const line = d3.line().x(d => this.x(d[0] * 1000)).y(d => this.y(d[1])).curve(curve)
        this.data.append("path").datum(pts).attr("d", line)
            .attr("fill", "none").attr("stroke", this.color).attr("stroke-width", width)
    }

    slabs (rows, lo, hi, textured = true) {
        const top = d => this.y(d.length > 2 ? d[3] : hi)
        const bot = d => this.y(d.length > 2 ? d[2] : lo)
        this.data.append("g").selectAll("rect")
            .data(rows)
            .join("rect")
            .attr("x", d => this.x(d[0] * 1000))
            .attr("width", d => Math.max(2, this.x(d[1] * 1000) - this.x(d[0] * 1000)))
            .attr("y", top)
            .attr("height", d => bot(d) - top(d))
            .attr("fill", this.paint(textured))
    }
}

const tempPanel = (p, meanHi, meanLo, up, down) => {
    p.hline(dFloor, "4,3")
    p.band(dBand[0], dBand[1])
    p.envelope(meanTimes, meanLo, meanHi)
    p.spikes(up, dBand[1], 21.83)
    p.spikes(down, dFloor, 21.76)
}

const specs = [
    {row: 0, left: 54, right: 658, title: "H1:PSL-70WAMP_D1TEMP [m-trend]", color: "#1f77b4",
        domain: [27.9661, 28.0338], ticks: d1Ticks,
        layers: p => {
            d1Bands.forEach(b => p.band(b[0], b[1]))
            p.envelope(meanTimes, d1MeanLo, d1MeanHi)
            p.spikes(d1Up, 28.02, 28.03)
            p.spikes(d1Down, 27.98, 27.97)
        }},
    {row: 0, left: 705, right: 1282, title: "H1:PSL-70WAMP_D2TEMP [m-trend]", color: "#ff7f0e",
        domain: [21.7557, 21.8343], ticks: dTicks,
        layers: p => tempPanel(p, d2MeanHi, d2MeanLo, d2Up, d2Down)},
    {row: 0, left: 1331, right: 1918, title: "H1:PSL-70WAMP_D3TEMP [m-trend]", color: "#2ca02c",
        domain: [21.7557, 21.8343], ticks: dTicks,
        layers: p => tempPanel(p, d3MeanHi, d3MeanLo, d3Up, d3Down)},
    {row: 0, left: 1967, right: 2550, title: "H1:PSL-70WAMP_D4TEMP [m-trend]", color: "#d62728",
        domain: [21.7557, 21.8343], ticks: dTicks,
        layers: p => tempPanel(p, d4MeanHi, d4MeanLo, d4Up, d4Down)},

    {row: 1, left: 54, right: 658, title: "H1:PSL-70WAMP_DBHTSNKTEMP [m-trend]", color: "#9467bd",
        domain: [22.198, 22.4233], ticks: htsTicks, bright: [22.2, 22.3, 22.4],
        layers: p => {
            p.spikeRows(htsSpikes, "3,2", 1)
            p.envelope(envTimes, htsOuterLo, htsOuterHi, true)
            p.envelope(envTimes, htsCoreLo, htsCoreHi)
        }},
    {row: 1, left: 707, right: 1282, title: "H1:PSL-AMP_XTALTEMP [m-trend]", color: "#8c564b",
        domain: [23.2395, 23.4209], ticks: ampTicks, bright: [23.3, 23.4],
        layers: p => {
            p.spikeRows(ampSpikes, null, 1.3)
            p.envelope(envTimes, ampOuterLo, ampOuterHi, true)
            p.envelope(envTimes, ampCoreLo, ampCoreHi)
        }},
    {row: 1, left: 1325, right: 1918, title: "H1:PSL-ISS_SAT_EVENTS [m-trend]", color: "#e377c2",
        domain: [200.3, 389.5], ticks: issTicks,
        layers: p => p.trace(issSteps, d3.curveStepAfter, 1.5)},
    {row: 1, left: 1962, right: 2550, title: "H1:PSL-FSS_RELOCK_COUNT [m-trend]", color: "#8f8f8f",
        domain: [111.4, 241.3], ticks: fssTicks, bright: [200],
        layers: p => p.trace(fssSteps, d3.curveStepAfter, 1.5)},

    {row: 2, left: 54, right: 658, title: "H1:PSL-NPRO_XTALTEMPSET [m-trend]", color: "#bcbd22",
        domain: [24.9387, 25.2437], ticks: nproTicks, minor: nproGrid, bright: [25.0, 25.2],
        layers: p => {
            p.spikeRows(nproSpikes, "3,2", 1)
            p.envelope(envTimes, nproOuterLo, nproOuterHi, true)
            p.envelope(envTimes, nproCoreLo, nproCoreHi)
            p.hline(nproBarRange[1], "4,3")
            p.hline(nproBarRange[0], "4,3")
            p.slabs(nproBars, nproBarRange[0], nproBarRange[1])
            p.trace(nproTrace, d3.curveLinear, 2.6)
        }},
    {row: 2, left: 700, right: 1282, title: "H1:PSL-PMC_RELOCK_COUNT [m-trend]", color: "#17becf",
        domain: [21.5, 22.5], ticks: relockTicks, minor: relockGrid,
        layers: p => p.trace(relockTrace, d3.curveLinear, 1.5)},
    {row: 2, left: 1325, right: 1918, title: "H1:PSL-PMC_TEMP_OUTPUT [m-trend]", color: "#6fc815",
        domain: [3.747, 4.839], ticks: tempTicks, minor: tempGrid, bright: [4],
        layers: p => {
            p.spikeRows(tempSpikes, "3,2", 1)
            p.spikeRows(tempDips, null, 2)
            p.envelope(tempTimes, tempOuterLo, tempOuterHi, true)
            p.envelope(tempTimes, tempCoreLo, tempCoreHi)
        }},
    {row: 2, left: 1962, right: 2550, title: "H1:PSL-PWR_PMC_REFL_OUTPUT [m-trend]", color: "#e8254f",
        domain: [10.245, 10.7896], ticks: reflTicks, minor: reflGrid,
        layers: p => {
            p.spikeRows(reflSpikes, "3,2", 1)
            p.envelope(envTimes, reflOuterLo, reflOuterHi, true)
            p.envelope(envTimes, reflCoreLo, reflCoreHi)
        }},

    {row: 3, left: 47, right: 658, title: "H1:PSL-PWR_PMC_TRANS_OUTPUT [m-trend]", color: "#e1e16e",
        domain: [33.57, 55.68], ticks: transTicks, bright: [40, 50],
        layers: p => {
            p.spikeRows(transSpikes, "3,2", 1)
            p.slabs(transBursts, 0, 0)
            p.trace(transBase, d3.curveLinear, 2.6)
        }}
]

const svg = d3.select("#scope")
svg.append("defs")

svg.append("rect").attr("x", 2).attr("y", 2).attr("width", 2558).attr("height", 1359).attr("fill", "#000")

specs.forEach((s, i) => new TrendPlot(svg, s, i))

svg.append("text")
    .attr("x", 1280).attr("y", 1348)
    .attr("text-anchor", "middle").attr("font-size", 16).attr("font-family", font)
    .attr("fill", "#cfcfcf")
    .text(caption)

// toolbar
const grad = svg.select("defs").append("linearGradient").attr("id", "btn").attr("x1", 0).attr("x2", 0).attr("y1", 0).attr("y2", 1)
grad.append("stop").attr("offset", 0).attr("stop-color", "#fbfaf9")
grad.append("stop").attr("offset", 1).attr("stop-color", "#e3e1de")

const bar = svg.append("g").attr("font-family", font).attr("font-size", 13).attr("fill", "#2e3436")
bar.selectAll("rect.btn")
    .data(buttons)
    .join("rect")
    .attr("class", "btn")
    .attr("x", d => d[1] + 0.5).attr("y", 1363.5)
    .attr("width", d => d[2]).attr("height", 23)
    .attr("rx", 3)
    .attr("fill", "url(#btn)").attr("stroke", "#b4b1ac")
bar.selectAll("text.btn")
    .data(buttons)
    .join("text")
    .attr("class", "btn")
    .attr("x", d => d[1] + d[2] / 2).attr("y", 1379.5)
    .attr("text-anchor", "middle")
    .style("white-space", "pre")
    .text(d => d[0])
bar.selectAll("text.status")
    .data(status)
    .join("text")
    .attr("class", "status")
    .attr("x", d => d[1]).attr("y", 1405)
    .text(d => d[0])
bar.append("path")
    .attr("d", "M2539,1378 L2544,1373 L2549,1378")
    .attr("fill", "none").attr("stroke", "#555").attr("stroke-width", 1.2)
</script>
</body>
</html>
